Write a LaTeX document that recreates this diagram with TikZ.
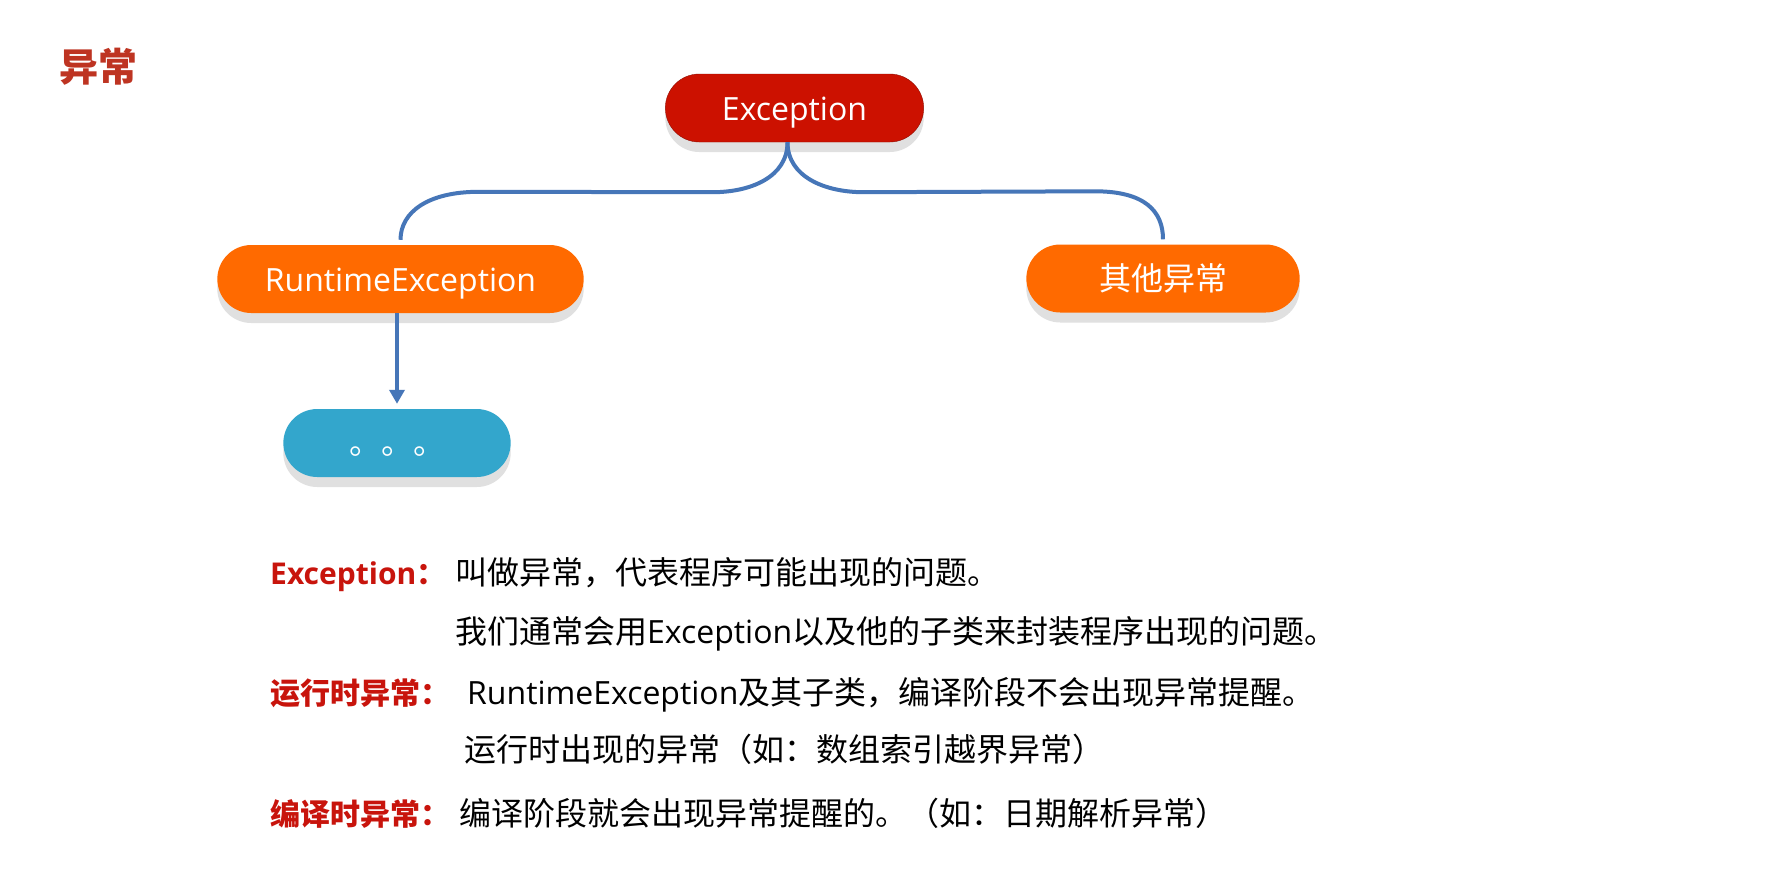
\documentclass[tikz,border=0pt]{standalone}
\usepackage{fontspec}
\setmainfont{Open Sans}
\newfontfamily\cjk{Noto Sans CJK SC}
\usetikzlibrary{shapes.misc,shadows,arrows.meta,calc}

\begin{document}
\begin{tikzpicture}[x=1pt,y=-1pt]
  \definecolor{excred}{HTML}{CC1100}
  \definecolor{rtorange}{HTML}{FF6A00}
  \definecolor{dotblue}{HTML}{33A6CC}
  \definecolor{linkblue}{HTML}{4676B8}
  \definecolor{titlered}{HTML}{BE3422}
  \definecolor{labelred}{HTML}{C8140C}
  \tikzstyle{pill}=[rounded rectangle, minimum height=68pt, text=white, font=\fontsize{32}{38}\selectfont,
    text height=28pt, text depth=4pt,
    drop shadow={shadow xshift=0pt, shadow yshift=-10pt, fill=black!12, opacity=1}]
  \tikzstyle{link}=[draw=linkblue, line width=4pt]
  \tikzstyle{line}=[anchor=base west, inner sep=0pt, font=\fontsize{32}{38}\selectfont]
  \tikzstyle{headword}=[anchor=base west, inner sep=0pt, text=labelred, font=\bfseries\fontsize{30}{36}\selectfont]

  \fill[white] (0,0) rectangle (1787,887);
  \useasboundingbox (0,0) rectangle (1787,887);

  \node[anchor=west, inner sep=0pt, text=titlered, font=\cjk\bfseries\fontsize{39}{46}\selectfont] (title) at (59,66.5) {异常};

% the tree
  \node[pill, fill=excred, draw=excred!70!black, minimum width=265pt] (exc) at (794.5,108) {Exception};
  \node[pill, fill=rtorange, minimum width=373pt] (rt) at (400.5,279) {RuntimeException};
  \node[pill, fill=rtorange, minimum width=280pt] (oth) at (1163,278.5) {\cjk 其他异常};
  \node[pill, fill=dotblue, minimum width=234pt, text height=26pt] (dots) at (397,443) {\cjk 。。。};

  \coordinate (split) at ([xshift=-7pt]exc.south);
  \draw[link] (split) .. controls +(0,35) and +(38,0) .. ++(-75,50)
    -- ($(rt.north)+(78,-53)$) .. controls +(-50,0) and +(0,-28) .. ([yshift=5pt]rt.north);
  \draw[link] (split) .. controls +(0,35) and +(-38,0) .. ++(76,50)
    -- ($(oth.north)+(-68,-53)$) .. controls +(50,0) and +(0,-28) .. ([yshift=5pt]oth.north);
  \draw[draw=linkblue, line width=3.5pt, -{Triangle[width=15pt,length=14pt]}] (rt.south -| dots.north) -- ([yshift=5pt]dots.north);

% the notes
  \node[headword] (hexc) at (270,584) {Exception{\cjk ：}};
  \node[line] (t1) at (455,584) {\cjk 叫做异常，代表程序可能出现的问题。};
  \node[line] (t2) at (455,643) {{\cjk 我们通常会用}Exception{\cjk 以及他的子类来封装程序出现的问题。}};
  \node[headword] (hrt) at (270,704) {\cjk 运行时异常：};
  \node[line] (t3) at (467,704) {RuntimeException{\cjk 及其子类，编译阶段不会出现异常提醒。}};
  \node[line] (t4) at (464,761) {\cjk 运行时出现的异常（如：数组索引越界异常）};
  \node[headword] (hcmp) at (270,825) {\cjk 编译时异常：};
  \node[line] (t5) at (459,825) {\cjk 编译阶段就会出现异常提醒的。（如：日期解析异常）};
\end{tikzpicture}
\end{document}
